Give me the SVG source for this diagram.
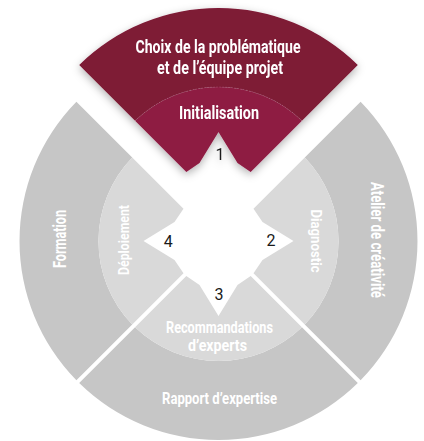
<svg xmlns="http://www.w3.org/2000/svg" xmlns:xlink="http://www.w3.org/1999/xlink" width="424" height="441" viewBox="0 0 424 441">
  <style>
    .lbl { font-family: Roboto, "Liberation Sans", "DejaVu Sans", sans-serif; font-weight: bold; fill: #ffffff; text-anchor: middle; }
    .num { font-family: Roboto, "Liberation Sans", "DejaVu Sans", sans-serif; font-weight: 400; fill: #1a1a1a; font-size: 16px; text-anchor: middle; }
  </style>
  <defs>
    <path id="outerBand" d="M 86.27,-83.44 L 142.1,-139.3 A 199 199 0 0 1 142.1,139.3 L 86.27,83.44 A 120 120 0 0 0 86.27,-83.44 Z"/>
    <path id="innerBand" d="M 35,-32.17 L 86.27,-83.44 A 120 120 0 0 1 86.27,83.44 L 35,32.17 L 44,19 L 75,0 L 44,-19 Z"/>
    <filter id="shadow" x="-20%" y="-20%" width="140%" height="140%">
      <feDropShadow dx="0" dy="3" stdDeviation="4.5" flood-color="#000000" flood-opacity="0.3"/>
    </filter>
  </defs>
  <rect width="424" height="441" fill="#ffffff"/>

  <g id="connectors"/>

  <!-- Grey segments -->
  <g id="node-atelier">
    <use xlink:href="#outerBand" transform="translate(218.5,241)" fill="#c6c6c6"/>
    <text class="lbl" font-size="17.5" textLength="116" lengthAdjust="spacingAndGlyphs" transform="translate(371,240) rotate(90)">Atelier de créativité</text>
  </g>
  <g id="node-diagnostic">
    <use xlink:href="#innerBand" transform="translate(218.5,241)" fill="#d9d9d9"/>
    <text class="lbl" font-size="15" textLength="63" lengthAdjust="spacingAndGlyphs" transform="translate(311,241) rotate(90)">Diagnostic</text>
    <text class="num" x="271" y="246">2</text>
  </g>
  <g id="node-rapport">
    <use xlink:href="#outerBand" transform="translate(218.5,241) rotate(90)" fill="#c6c6c6"/>
    <text class="lbl" font-size="16.5" x="219.5" y="404" textLength="115" lengthAdjust="spacingAndGlyphs">Rapport d’expertise</text>
  </g>
  <g id="node-recommandations">
    <use xlink:href="#innerBand" transform="translate(218.5,241) rotate(90)" fill="#d9d9d9"/>
    <text class="lbl" font-size="16" x="219.5" y="333" textLength="107" lengthAdjust="spacingAndGlyphs">Recommandations</text>
    <text class="lbl" font-size="16" x="217.5" y="351" textLength="59" lengthAdjust="spacingAndGlyphs">d’experts</text>
    <text class="num" x="219" y="300">3</text>
  </g>
  <g id="node-formation">
    <use xlink:href="#outerBand" transform="translate(218.5,241) rotate(180)" fill="#c6c6c6"/>
    <text class="lbl" font-size="17.5" textLength="58" lengthAdjust="spacingAndGlyphs" transform="translate(65.5,239) rotate(-90)">Formation</text>
  </g>
  <g id="node-deploiement">
    <use xlink:href="#innerBand" transform="translate(218.5,241) rotate(180)" fill="#d9d9d9"/>
    <text class="lbl" font-size="15" textLength="70" lengthAdjust="spacingAndGlyphs" transform="translate(129,240) rotate(-90)">Déploiement</text>
    <text class="num" x="168.3" y="246.5">4</text>
  </g>

  <!-- Highlighted top segment -->
  <g id="segment-top" filter="url(#shadow)">
    <g id="node-choix">
      <use xlink:href="#outerBand" transform="translate(218.5,207) rotate(-90)" fill="#7e1a36"/>
      <text class="lbl" font-size="18" x="218" y="53" textLength="165" lengthAdjust="spacingAndGlyphs">Choix de la problématique</text>
      <text class="lbl" font-size="18" x="220" y="74" textLength="126" lengthAdjust="spacingAndGlyphs">et de l’équipe projet</text>
    </g>
    <g id="node-initialisation">
      <use xlink:href="#innerBand" transform="translate(218.5,207) rotate(-90)" fill="#8e1b42"/>
      <path d="M 135.06,120.73 A 120 120 0 0 1 301.94,120.73" fill="none" stroke="#ffffff" stroke-opacity="0.25" stroke-width="0.6" stroke-dasharray="1.5 1.5"/>
      <text class="lbl" font-size="17.5" x="219" y="119" textLength="80" lengthAdjust="spacingAndGlyphs">Initialisation</text>
      <text class="num" x="220" y="160">1</text>
    </g>
  </g>
</svg>
